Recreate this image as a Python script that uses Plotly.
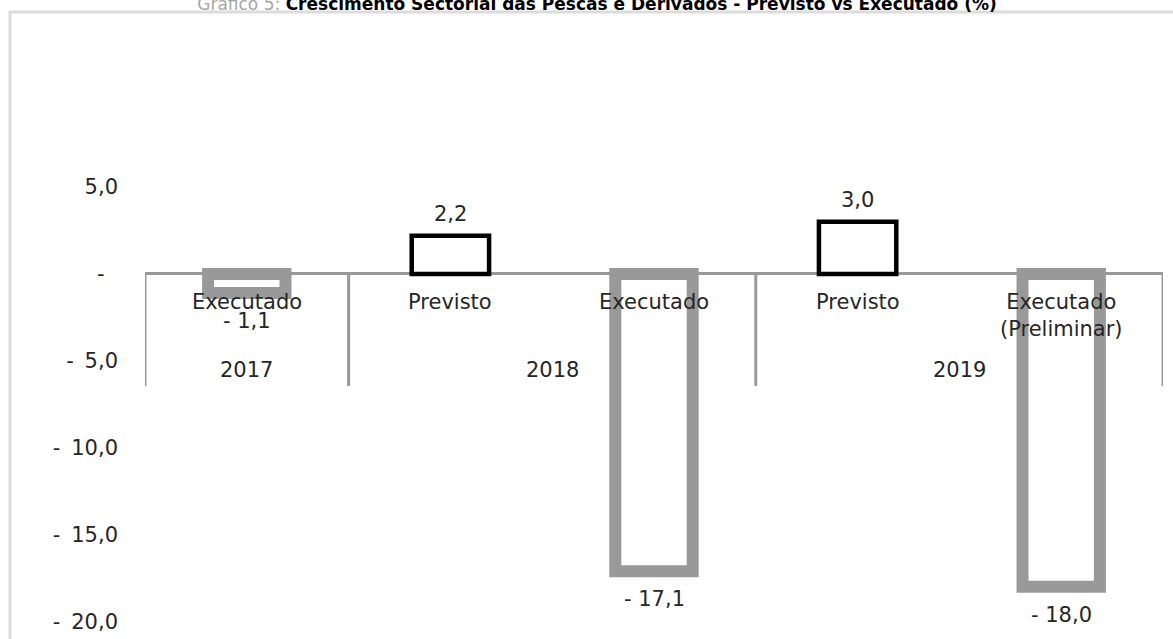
import plotly.graph_objects as go

# data
years = ["2017", "2018", "2018", "2019", "2019"]
stages = ["Executado", "Previsto", "Executado", "Previsto", "Executado<br>(Preliminar)"]
growth = [-1.1, 2.2, -17.1, 3.0, -18.0]
y_ticks = [5, 0, -5, -10, -15, -20]
y_tick_labels = ["5,0", "-\u00a0\u00a0", "-\u2009 5,0", "-\u2009 10,0", "-\u2009 15,0", "-\u2009 20,0"]

W, H = 1173, 639
L, R, T, B = 145, 10, 187, 0
y_range = [-21, 5]
FONT = "DejaVu Sans"
TXT = "#262626"
GREY = "#999999"
FS = 21


def fmt(v):
    s = f"{abs(v):.1f}".replace(".", ",")
    return "- " + s if v < 0 else s


keys = [f"{y} {s}" for y, s in zip(years, stages)]
is_plan = [s == "Previsto" for s in stages]
line_cols = ["#000000" if p else GREY for p in is_plan]
line_widths = [4.5 if p else 12 for p in is_plan]

fig = go.Figure()
fig.add_trace(go.Bar(
    x=keys,
    y=growth,
    width=0.38,
    marker=dict(color="white", line=dict(color=line_cols, width=line_widths)),
    cliponaxis=False,
    hoverinfo="skip",
))

annotations = []
# value labels just beyond the bar ends
for k, v in zip(keys, growth):
    annotations.append(dict(
        x=k, y=v, text=fmt(v), showarrow=False,
        yanchor="middle", yshift=22 if v > 0 else -28,
        font=dict(family=FONT, size=FS, color=TXT),
    ))
# first level category labels, hanging from the zero line
for k, s in zip(keys, stages):
    annotations.append(dict(
        x=k, y=0, text=s, showarrow=False,
        yanchor="top", yshift=-15, borderpad=0,
        font=dict(family=FONT, size=FS, color=TXT),
    ))

# year groups: label in the middle, divider lines at the edges
groups = []
for i, y in enumerate(years):
    if groups and groups[-1][0] == y:
        groups[-1][2] = i
    else:
        groups.append([y, i, i])

shapes = []
edges = sorted({g[1] - 0.5 for g in groups} | {g[2] + 0.5 for g in groups})
for e in edges:
    shapes.append(dict(
        type="line", xref="x", yref="y", ysizemode="pixel", yanchor=0,
        x0=e, x1=e, y0=0, y1=-112,
        line=dict(color=GREY, width=3), layer="below",
    ))
for y, i0, i1 in groups:
    annotations.append(dict(
        x=(i0 + i1) / 2, y=0, text=y, showarrow=False,
        yanchor="middle", yshift=-96,
        font=dict(family=FONT, size=FS, color=TXT),
    ))

pw = W - L - R
ph = H - T - B
# light frame around the chart area
shapes.append(dict(
    type="rect", xref="paper", yref="paper",
    x0=(10 - L) / pw, x1=1 + 30 / pw,
    y0=-0.1, y1=1 + (T - 12) / ph,
    line=dict(color="#dcdcdc", width=3),
    layer="below",
))

fig.update_layout(
    width=W, height=H,
    margin=dict(l=L, r=R, t=T, b=B),
    paper_bgcolor="white", plot_bgcolor="white",
    showlegend=False,
    title=dict(
        text="<span style='color:#a6a6a6'>Gráfico 5:</span> "
             "<b>Crescimento Sectorial das Pescas e Derivados - Previsto vs Executado (%)</b>",
        x=597 / W, xanchor="center",
        y=1 - 4 / H, yanchor="middle",
        font=dict(family=FONT, size=17, color="#000000"),
    ),
    font=dict(family=FONT, size=FS, color=TXT),
    xaxis=dict(
        type="category", range=[-0.5, len(keys) - 0.5],
        showticklabels=False, ticks="", showgrid=False,
        showline=False, zeroline=False,
    ),
    yaxis=dict(
        range=y_range,
        tickmode="array", tickvals=y_ticks, ticktext=y_tick_labels,
        showgrid=False, showline=False, ticks="",
        zeroline=True, zerolinecolor=GREY, zerolinewidth=3,
        ticklabelstandoff=26,
        tickfont=dict(family=FONT, size=FS, color=TXT),
    ),
    annotations=annotations,
    shapes=shapes,
)

fig.write_html("out.html", config={"displayModeBar": False},
               post_script="document.body.style.margin='0px';")
